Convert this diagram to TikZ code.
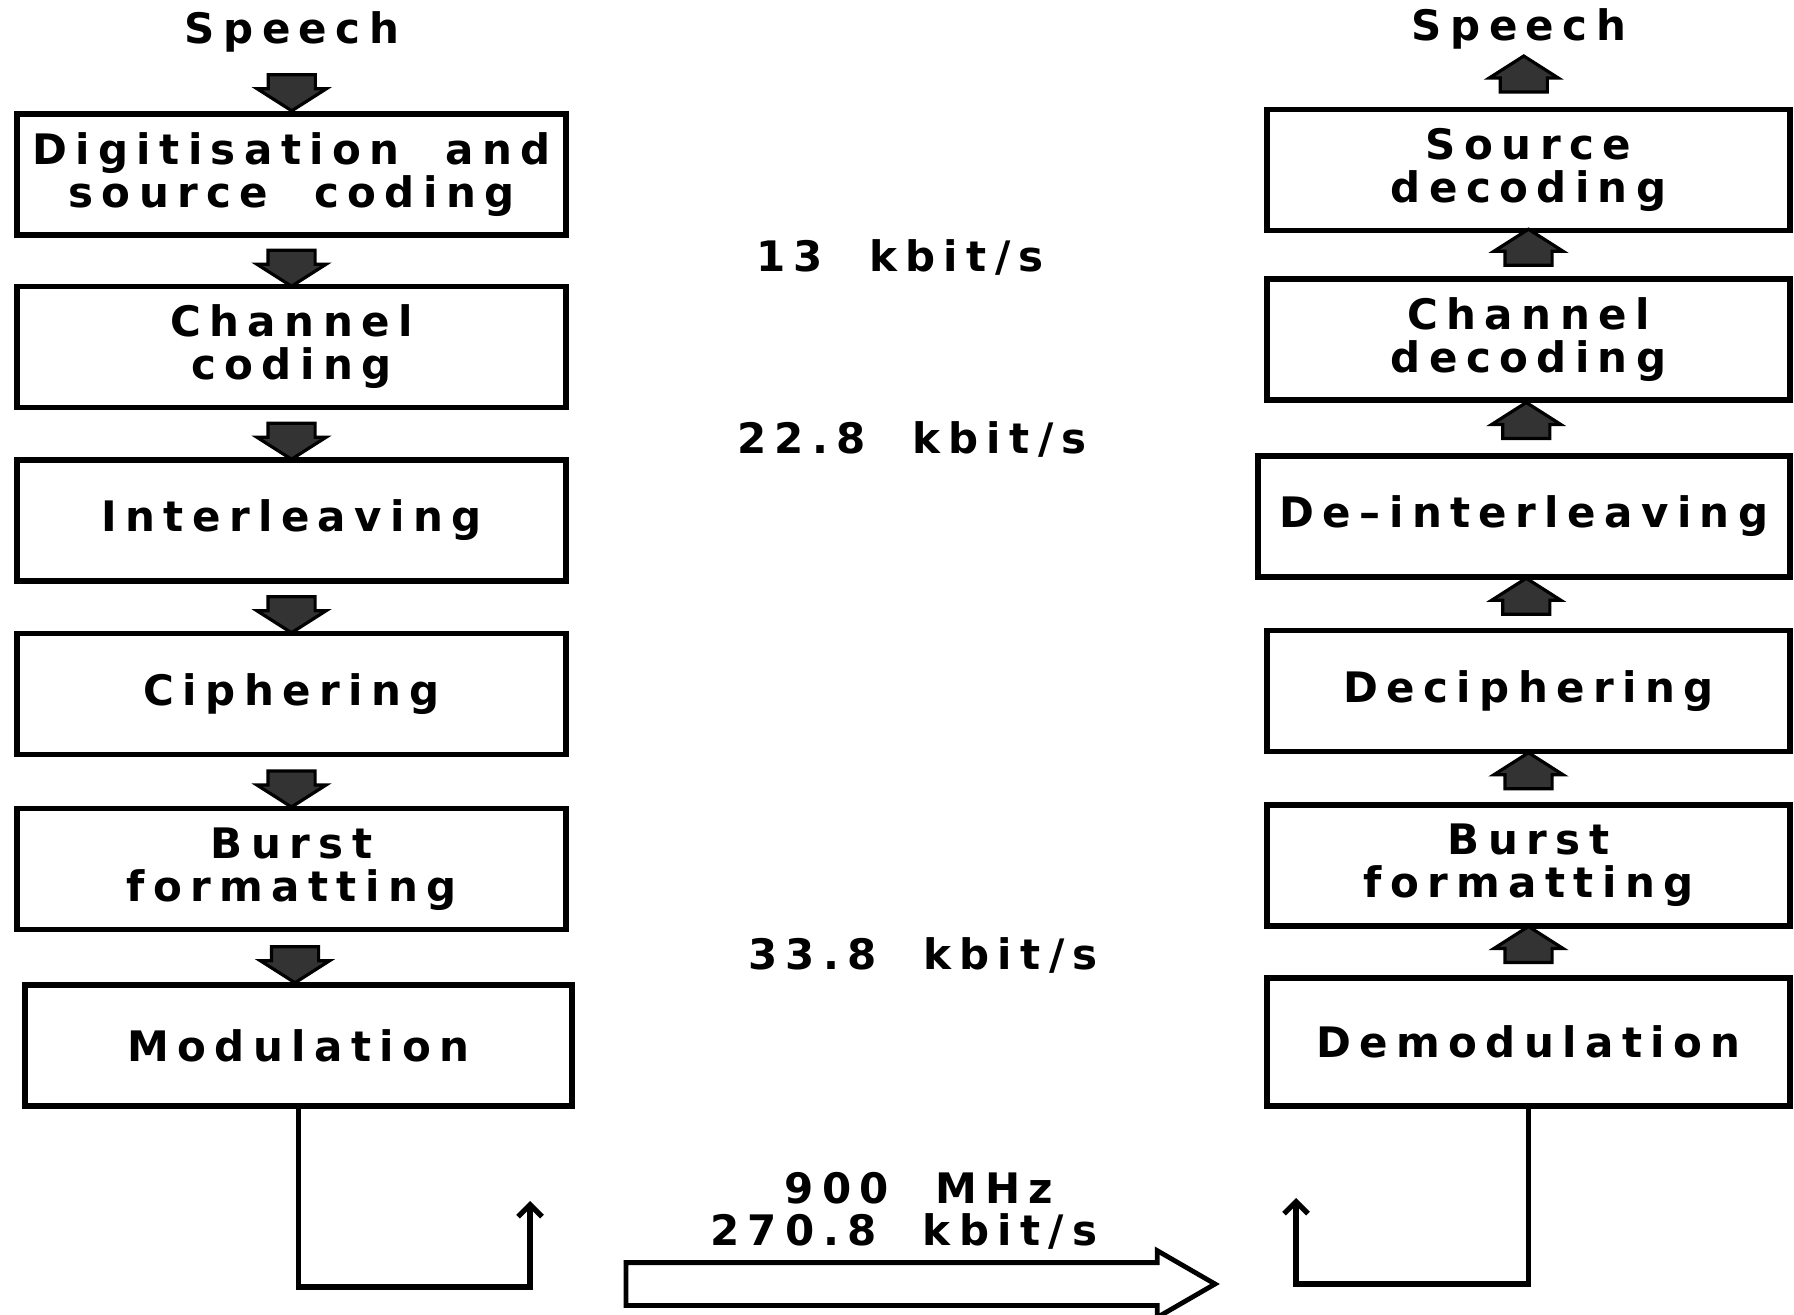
\documentclass[tikz,border=0pt]{standalone}
\usepackage{xcolor}
\usepackage{fontspec}
\usepackage{tikz}
\usetikzlibrary{shapes.arrows,calc,arrows.meta}

\newfontfamily\diagfont{DejaVu Sans}[LetterSpace=20]

\tikzset{
    bloco/.style={draw, line width=2.8pt, inner sep=0pt, align=center,
        minimum width=274.5pt, minimum height=60.5pt,
        font=\diagfont\bfseries\fontsize{21}{21.5}\selectfont},
    seta/.style={single arrow, draw, line width=1.6pt, fill=black!80,
        inner xsep=11pt, inner ysep=0pt, minimum height=18pt,
        single arrow head extend=5.5pt, single arrow tip angle=115},
    rotulo/.style={font=\diagfont\bfseries\fontsize{21}{21.5}\selectfont},
    linha/.style={line width=2.6pt, -{Straight Barb[length=6pt,width=12pt]}}
}

\begin{document}
\begin{tikzpicture}[x=0.5pt, y=-0.5pt]

    % Area do desenho
    \useasboundingbox (0,0) rectangle (1794,1315);

    % Transmissor (coluna da esquerda)
    \node[rotulo] (falaE) at (292,32) {Speech};
    \node[bloco] (dig) at (291.5,174.5) {Digitisation\ \ and\\source\ \ coding};
    \node[bloco] (chc) at (291.5,347) {Channel\\coding};
    \node[bloco] (intl) at (291.5,520.5) {Interleaving};
    \node[bloco] (cif) at (291.5,694) {Ciphering};
    \node[bloco] (burstE) at (291.5,869) {Burst\\formatting};
    \node[bloco, minimum width=273.5pt] (modu) at (298.5,1045.5) {Modulation};

    % Receptor (coluna da direita)
    \node[rotulo] (falaR) at (1519,29) {Speech};
    \node[bloco, minimum width=261.5pt] (sdec) at (1528.5,170) {Source\\decoding};
    \node[bloco, minimum width=261.5pt] (cdec) at (1528.5,339.5) {Channel\\decoding};
    \node[bloco, minimum width=266pt] (dint) at (1524,516.5) {De–interleaving};
    \node[bloco, minimum width=261.5pt] (decif) at (1528.5,691) {Deciphering};
    \node[bloco, minimum width=261.5pt] (burstR) at (1528.5,865.5) {Burst\\formatting};
    \node[bloco, minimum width=261.5pt, minimum height=64pt] (demod) at (1528.5,1042) {Demodulation};

    % Setas para baixo (transmissor)
    \foreach \a/\b in {falaE/dig, dig/chc, chc/intl, intl/cif, cif/burstE, burstE/modu} {
        \node[seta, shape border rotate=270] (sd-\b) at ($(\a.south)!0.5!(\b.north)$) {};
    }

    % Setas para cima (receptor)
    \foreach \a/\b in {demod/burstR, burstR/decif, decif/dint, dint/cdec, cdec/sdec, sdec/falaR} {
        \node[seta, shape border rotate=90] (su-\a) at ($(\a.north)!0.5!(\b.south)$) {};
    }

    % Taxas de bits
    \node[rotulo] (taxa1) at (900,257) {13\ \ kbit/s};
    \node[rotulo] (taxa2) at (912,439) {22.8\ \ kbit/s};
    \node[rotulo] (taxa3) at (923,955) {33.8\ \ kbit/s};

    % Antenas
    \coordinate (cantoE) at (530,1287);
    \coordinate (antE) at (530,1201);
    \draw[linha] (modu.south) |- (cantoE) -- (antE);
    \coordinate (cantoR) at (1296,1284);
    \coordinate (antR) at (1296,1198);
    \draw[linha] (demod.south) |- (cantoR) -- (antR);

    % Canal de radio
    \node[single arrow, draw, line width=2.4pt, inner xsep=0pt, inner ysep=9.5pt,
        minimum height=294.5pt,
        single arrow head extend=6pt, single arrow tip angle=60] (canal) at (902,1284) {};
    \node[rotulo] (freq) at (919,1188) {900\ \ MHz};
    \node[rotulo] (taxa4) at (904,1231) {270.8\ \ kbit/s};

\end{tikzpicture}
\end{document}
